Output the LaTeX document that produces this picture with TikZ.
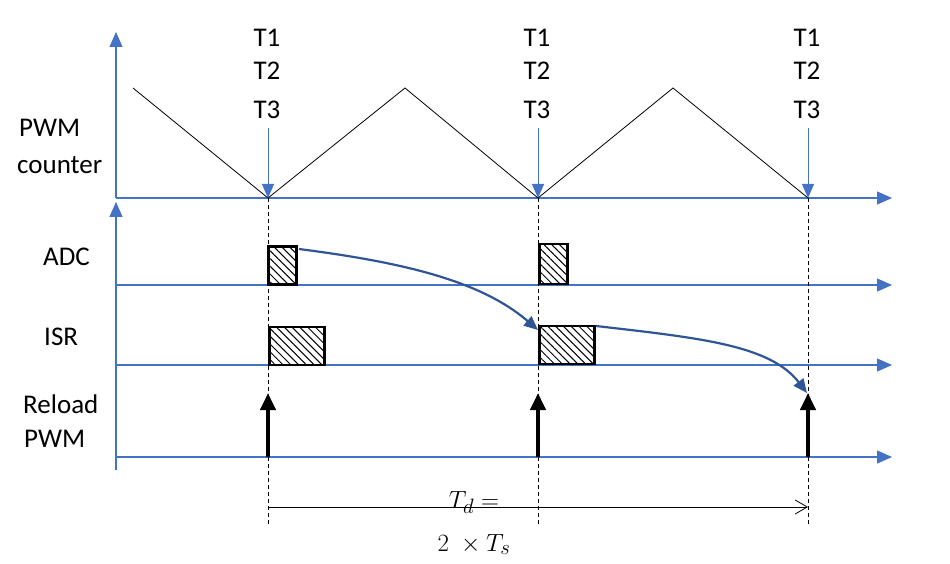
\documentclass[tikz,border=0pt]{standalone}
\usepackage{fontspec}
\setmainfont{Carlito}
\usetikzlibrary{arrows.meta,patterns.meta}
\definecolor{axblue}{RGB}{68,114,196}
\definecolor{curveblue}{RGB}{47,85,151}
\begin{document}
\begin{tikzpicture}[x=1pt,y=-1pt,
  axis/.style={draw=axblue,line width=1.2pt,-{Triangle[width=13pt,length=15pt]}},
  wave/.style={draw=black,line width=0.8pt},
  marker/.style={draw=axblue,line width=1pt,-{Triangle[width=12pt,length=14pt]}},
  guide/.style={draw=black,dashed,dash pattern=on 4pt off 3pt,line width=0.8pt},
  taskbox/.style={draw=black,line width=2.5pt,pattern={Lines[angle=-45,distance=5.5pt,line width=1pt]},pattern color=black},
  flow/.style={draw=curveblue,line width=2.2pt,-{Triangle[width=12pt,length=14pt]}},
  reload/.style={draw=black,line width=4pt,-{Triangle[width=15pt,length=17pt]}},
  lab/.style={font=\fontsize{27}{30}\selectfont,inner sep=0pt,anchor=base west},
  tlab/.style={font=\fontsize{27}{30}\selectfont,inner sep=0pt,anchor=base},
  mlab/.style={font=\fontsize{29}{32}\selectfont,inner sep=0pt,anchor=base}]
\useasboundingbox (0,0) rectangle (950,564);
% axes
\coordinate (o1) at (116,198);
\coordinate (y1) at (116,32);
\coordinate (x1) at (892,198);
\coordinate (o2) at (116,470);
\coordinate (y2) at (116,202);
\coordinate (adc0) at (116,285);
\coordinate (adc1) at (892,285);
\coordinate (isr0) at (116,365);
\coordinate (isr1) at (892,365);
\coordinate (pwm0) at (116,457);
\coordinate (pwm1) at (892,457);
\draw[axis] (o1) -- (y1);
\draw[axis] (o1) -- (x1);
\draw[axis] (o2) -- (y2);
\draw[axis] (adc0) -- (adc1);
\draw[axis] (isr0) -- (isr1);
\draw[axis] (pwm0) -- (pwm1);
% triangle wave
\coordinate (w0) at (133,88);
\coordinate (w1) at (268,198);
\coordinate (w2) at (405,88);
\coordinate (w3) at (538,198);
\coordinate (w4) at (673,88);
\coordinate (w5) at (808,198);
\draw[wave] (w0) -- (w1) -- (w2) -- (w3) -- (w4) -- (w5);
% dashed guides
\foreach \i/\x in {a/268,b/538,c/808}{
  \coordinate (g\i top) at (\x,198);
  \coordinate (g\i bot) at (\x,525);
  \draw[guide] (g\i top) -- (g\i bot);
  \node[tlab] (t1\i) at (\x-1,47) {T1};
  \node[tlab] (t2\i) at (\x-1,80) {T2};
  \node[tlab] (t3\i) at (\x-1,119) {T3};
  \coordinate (m\i) at (\x,128);
  \draw[marker] (m\i) -- (g\i top);
  \coordinate (r\i) at (\x,457);
  \coordinate (rt\i) at (\x,393);
  \draw[reload] (r\i) -- (rt\i);
}
% labels
\node[lab] (lpwm) at (19,137) {PWM};
\node[lab] (lcnt) at (17,174) {counter};
\node[lab] (ladc) at (43,265) {ADC};
\node[lab] (lisr) at (44,345) {ISR};
\node[lab] (lrel) at (23,413) {Reload};
\node[lab] (lpw2) at (24,447) {PWM};
% boxes
\node[taskbox,minimum width=28pt,minimum height=38pt,inner sep=0pt,anchor=south west] (adcA) at (268,285) {};
\node[taskbox,minimum width=28pt,minimum height=40pt,inner sep=0pt,anchor=south west] (adcB) at (538,285) {};
\node[taskbox,minimum width=55pt,minimum height=38pt,inner sep=0pt,anchor=south west] (isrA) at (268,366) {};
\node[taskbox,minimum width=55pt,minimum height=38pt,inner sep=0pt,anchor=south west] (isrB) at (538,365) {};
% flow arrows
\coordinate (f1s) at (299,249);
\coordinate (f1e) at (538,330);
\coordinate (f2s) at (596,326);
\coordinate (f2e) at (807,393);
\draw[flow] (f1s) .. controls (400,262) and (480,280) .. (f1e);
\draw[flow] (f2s) .. controls (700,338) and (770,345) .. (f2e);
% delay
\coordinate (d0) at (268,507);
\coordinate (d1) at (808,507);
\draw[line width=0.8pt,-{Straight Barb[width=14pt,length=12pt,line width=0.8pt]}] (d0) -- (d1);
\node[mlab] (td) at (474,508) {$T_d =$};
\node[mlab] (ts) at (474,551) {$2\ \times T_s$};
\end{tikzpicture}
\end{document}
